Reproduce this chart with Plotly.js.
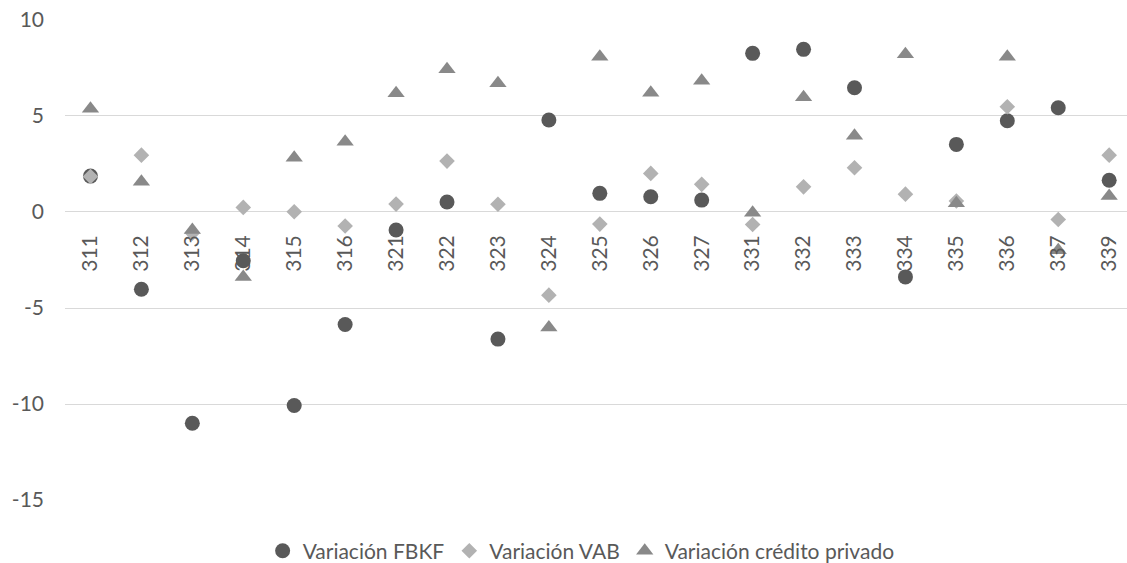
<!DOCTYPE html>
<html>
<head>
<meta charset="utf-8">
<script src="https://cdn.plot.ly/plotly-3.0.1.min.js"></script>
<style>html,body{margin:0;padding:0;background:#fff;}#chart{width:1127px;height:563px;}</style>
</head>
<body>
<div id="chart"></div>
<script>
const categories = ["311","312","313","314","315","316","321","322","323","324","325","326","327","331","332","333","334","335","336","337","339"];
const variacionFBKF = [1.87, -4.02, -11.0, -2.54, -10.08, -5.86, -0.94, 0.52, -6.62, 4.79, 0.97, 0.79, 0.62, 8.26, 8.47, 6.47, -3.38, 3.52, 4.75, 5.43, 1.65];
const variacionVAB = [1.85, 2.96, -1.1, 0.24, 0.01, -0.73, 0.41, 2.65, 0.40, -4.33, -0.63, 2.01, 1.44, -0.65, 1.31, 2.30, 0.93, 0.57, 5.48, -0.39, 2.96];
const variacionCredito = [5.38, 1.57, -0.94, -3.38, 2.83, 3.66, 6.18, 7.43, 6.70, -6.01, 8.09, 6.21, 6.84, -0.04, 5.97, 3.97, 8.21, 0.45, 8.09, -1.99, 0.83];
const seriesNames = ["Variación FBKF", "Variación VAB", "Variación crédito privado"];

const tickFont = {family: "Lato, 'Open Sans', sans-serif", size: 21, color: "#595959"};
const legendFont = {family: "Lato, 'Open Sans', sans-serif", size: 21, color: "#595959"};

const traces = [
  {x: categories, y: variacionFBKF, name: seriesNames[0], type: "scatter", mode: "markers",
   marker: {symbol: "circle", size: 15, color: "#595959"}},
  {x: categories, y: variacionVAB, name: seriesNames[1], type: "scatter", mode: "markers",
   marker: {symbol: "diamond", size: 12, color: "#B2B2B2"}},
  {x: categories, y: variacionCredito, name: seriesNames[2], type: "scatter", mode: "markers",
   marker: {symbol: "triangle-up", size: 15, color: "#898989"}}
];

const layout = {
  width: 1127, height: 563,
  margin: {l: 65, r: 0, t: 19, b: 62, autoexpand: false},
  paper_bgcolor: "#ffffff", plot_bgcolor: "#ffffff",
  font: tickFont,
  showlegend: true,
  legend: {orientation: "h", x: 0.486, xanchor: "center", y: -0.104, yanchor: "middle",
           font: legendFont, itemwidth: 30, tracegroupgap: 0},
  xaxis: {type: "category", range: [-0.5, 20.35], anchor: "free", position: 0.5996,
          showgrid: false, showline: false, zeroline: false, tickangle: -90,
          ticks: "", ticklabelstandoff: 18, tickfont: tickFont, fixedrange: true, automargin: false},
  yaxis: {range: [-15.05, 10.05], tickvals: [-15, -10, -5, 0, 5, 10], ticktext: ["-15","-10","-5","0","5","10"],
          showgrid: true, gridcolor: "#D9D9D9", gridwidth: 1, zeroline: false, showline: false,
          ticks: "", ticklabelstandoff: 20, tickfont: tickFont, fixedrange: true, automargin: false}
};

Plotly.newPlot("chart", traces, layout, {displayModeBar: false, staticPlot: true});
</script>
</body>
</html>
